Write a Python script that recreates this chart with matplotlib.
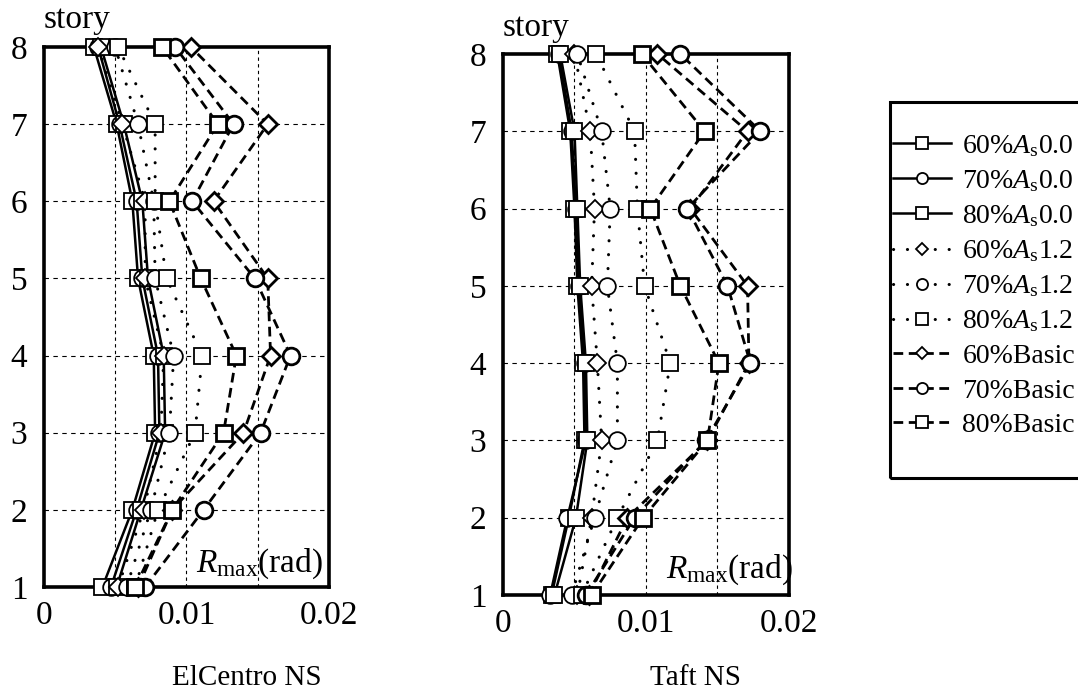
import numpy as np
import matplotlib as mpl
import matplotlib.pyplot as plt
from matplotlib.lines import Line2D
from matplotlib.patches import Rectangle

mpl.rcParams['font.family'] = ['Liberation Serif', 'DejaVu Serif']
mpl.rcParams['mathtext.fontset'] = 'custom'
mpl.rcParams['mathtext.rm'] = 'Liberation Serif'
mpl.rcParams['mathtext.it'] = 'Liberation Serif:italic'

stories = [1, 2, 3, 4, 5, 6, 7, 8]

labels = ['60%$A_{\\mathrm{s}}$0.0', '70%$A_{\\mathrm{s}}$0.0', '80%$A_{\\mathrm{s}}$0.0',
          '60%$A_{\\mathrm{s}}$1.2', '70%$A_{\\mathrm{s}}$1.2', '80%$A_{\\mathrm{s}}$1.2',
          '60%Basic', '70%Basic', '80%Basic']

# ElCentro NS, Rmax (rad) per story 1..8
elc_60_as00 = [0.0041, 0.0062, 0.0078, 0.0077, 0.0066, 0.0062, 0.0051, 0.0035]
elc_70_as00 = [0.0047, 0.0065, 0.0081, 0.0080, 0.0069, 0.0065, 0.0053, 0.0038]
elc_80_as00 = [0.0051, 0.0068, 0.0085, 0.0084, 0.0073, 0.0069, 0.0056, 0.0040]
elc_60_as12 = [0.0052, 0.0070, 0.0082, 0.0084, 0.0071, 0.0071, 0.0055, 0.0038]
elc_70_as12 = [0.0058, 0.0075, 0.0088, 0.0091, 0.0078, 0.0077, 0.0066, 0.0050]
elc_80_as12 = [0.0064, 0.0080, 0.0106, 0.0111, 0.0086, 0.0078, 0.0078, 0.0052]
elc_60_basic = [0.0066, 0.0090, 0.0140, 0.0159, 0.0157, 0.0119, 0.0157, 0.0103]
elc_70_basic = [0.0071, 0.0112, 0.0152, 0.0173, 0.0148, 0.0104, 0.0133, 0.0092]
elc_80_basic = [0.0064, 0.0090, 0.0126, 0.0135, 0.0110, 0.0088, 0.0122, 0.0083]

# Taft NS
taft_60_as00 = [0.0034, 0.0046, 0.0057, 0.0056, 0.0052, 0.0050, 0.0047, 0.0038]
taft_70_as00 = [0.0033, 0.0045, 0.0058, 0.0057, 0.0053, 0.0051, 0.0048, 0.0039]
taft_80_as00 = [0.0036, 0.0051, 0.0059, 0.0058, 0.0054, 0.0052, 0.0050, 0.0040]
taft_60_as12 = [0.0052, 0.0062, 0.0069, 0.0066, 0.0062, 0.0064, 0.0061, 0.0050]
taft_70_as12 = [0.0048, 0.0064, 0.0080, 0.0080, 0.0073, 0.0075, 0.0069, 0.0052]
taft_80_as12 = [0.0055, 0.0080, 0.0108, 0.0117, 0.0099, 0.0094, 0.0092, 0.0065]
taft_60_basic = [0.0060, 0.0087, 0.0143, 0.0172, 0.0171, 0.0131, 0.0171, 0.0108]
taft_70_basic = [0.0058, 0.0092, 0.0142, 0.0173, 0.0157, 0.0129, 0.0180, 0.0124]
taft_80_basic = [0.0062, 0.0098, 0.0143, 0.0151, 0.0124, 0.0103, 0.0141, 0.0097]

elcentro = [elc_60_as00, elc_70_as00, elc_80_as00, elc_60_as12, elc_70_as12,
            elc_80_as12, elc_60_basic, elc_70_basic, elc_80_basic]
taft = [taft_60_as00, taft_70_as00, taft_80_as00, taft_60_as12, taft_70_as12,
        taft_80_as12, taft_60_basic, taft_70_basic, taft_80_basic]

markers = ['s', 'o', 's', 'D', 'o', 's', 'D', 'o', 's']
solid = '-'
dots = (0, (0.05, 4.5))
dashes = (0, (3.5, 2.0))
styles = [solid] * 3 + [dots] * 3 + [dashes] * 3
sizes = {'s': 11.5, 'o': 12, 'D': 9}


def style(i):
    ls = styles[i]
    kw = dict(color='k', linestyle=ls, marker=markers[i], markerfacecolor='white',
              markeredgecolor='k')
    if ls == solid:
        kw.update(lw=1.8, mew=1.3)
    elif ls == dots:
        kw.update(lw=2.2, mew=1.3, dash_capstyle='round')
    else:
        kw.update(lw=2.0, mew=2.0)
    return kw


def panel(ax, data, title, title_x, story_dy, rlabel_xy):
    for i, vals in enumerate(data):
        ax.plot(vals, stories, ms=sizes[markers[i]], clip_on=False,
                zorder=3 + i, **style(i))
    ax.set_xlim(0, 0.02)
    ax.set_ylim(1, 8)
    ax.set_xticks([0, 0.01, 0.02])
    ax.set_xticklabels(['0', '0.01', '0.02'])
    ax.set_yticks(stories)
    ax.tick_params(length=0, labelsize=24)
    ax.tick_params(axis='y', pad=12)
    ax.tick_params(axis='x', pad=10)
    for s in stories[1:-1]:
        ax.axhline(s, color='k', lw=0.8, ls=(0, (4, 4)), zorder=1)
    for x in [0.005, 0.01, 0.015]:
        ax.axvline(x, color='k', lw=0.8, ls=(0, (3, 3)), zorder=1)
    for sp in ax.spines.values():
        sp.set_linewidth(2.6)
    ax.annotate('story', xy=(0, 1), xycoords='axes fraction',
                xytext=(0, story_dy), textcoords='offset points',
                fontsize=24, ha='left', va='baseline')
    ax.text(rlabel_xy[0], rlabel_xy[1], '$R_{\\mathrm{max}}$(rad)',
            transform=ax.transAxes, fontsize=24, ha='right', va='baseline')
    fig.text(title_x, 1 - 685 / 691, title, fontsize=21, ha='left',
             va='baseline')


fig = plt.figure(figsize=(10.78, 6.91), dpi=100)
ax1 = fig.add_axes([0.0408, 0.1505, 0.2644, 0.7815])
ax2 = fig.add_axes([0.4666, 0.1389, 0.2653, 0.7830])
panel(ax1, elcentro, 'ElCentro NS', 172 / 1078, 14, (0.979, 0.028))
panel(ax2, taft, 'Taft NS', 650 / 1078, 13, (1.014, 0.031))

handles = []
for i in range(9):
    kw = style(i)
    kw['ms'] = 8 if markers[i] != 'D' else 6
    kw['mew'] = 1.3
    handles.append(Line2D([], [], **kw))
fig.legend(handles, labels, loc='upper left', bbox_to_anchor=(0.818, 0.8234),
           frameon=False, fontsize=20, handlelength=2.1, handletextpad=0.4,
           labelspacing=0.33, borderaxespad=0)
fig.patches.append(Rectangle((890 / 1078, 1 - 478 / 691), 0.3, (478 - 102) / 691,
                             transform=fig.transFigure, fill=False, lw=2.2,
                             edgecolor='k'))

fig.savefig('out.png', dpi=100)
